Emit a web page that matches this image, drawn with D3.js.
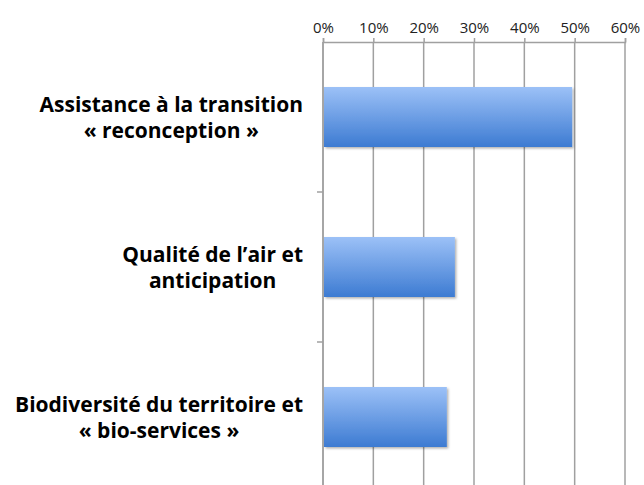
<!DOCTYPE html>
<html>
<head>
<meta charset="utf-8">
<script src="https://cdn.jsdelivr.net/npm/d3@7"></script>
<style>
  body { margin: 0; background: #fff; }
  text { font-family: "Open Sans", Lato, sans-serif; }
</style>
</head>
<body>
<div id="chart"></div>
<script>
// categories (two lines each, as wrapped in the original)
const categories = [
  ["Assistance à la transition", "« reconception »"],
  ["Qualité de l’air et", "anticipation"],
  ["Biodiversité du territoire et", "« bio-services »"]
]
const values = [0.495, 0.262, 0.246]
const tickValues = [0, 0.1, 0.2, 0.3, 0.4, 0.5, 0.6]

let width = 644
let height = 485
let margin = {top: 42, left: 323, right: 19}
let plotBottom = 492

let svg = d3.select("#chart").append("svg")
  .attr("width", width).attr("height", height)

// gradient for bars
let defs = svg.append("defs")
let grad = defs.append("linearGradient").attr("id", "barGrad")
  .attr("x1", 0).attr("y1", 0).attr("x2", 0).attr("y2", 1)
grad.append("stop").attr("offset", "0%").attr("stop-color", "#9cc1f7")
grad.append("stop").attr("offset", "100%").attr("stop-color", "#3d7bd2")
let shadow = defs.append("filter").attr("id", "shadow")
  .attr("x", "-5%").attr("y", "-10%").attr("width", "115%").attr("height", "130%")
shadow.append("feDropShadow").attr("dx", 1.5).attr("dy", 1.5).attr("stdDeviation", 1.2)
  .attr("flood-color", "#000").attr("flood-opacity", 0.3)

let x = d3.scaleLinear().domain([0, 0.6]).range([margin.left, width - margin.right])
let y = d3.scaleBand().domain(d3.range(categories.length))
  .range([margin.top, plotBottom]).paddingInner(0.6).paddingOuter(0.3)

// vertical gridlines
svg.append("g").selectAll("line").data(tickValues).enter().append("line")
  .attr("x1", d => x(d)).attr("x2", d => x(d))
  .attr("y1", margin.top).attr("y2", height)
  .attr("stroke", "#a0a0a0").attr("stroke-width", 1.5)

// top axis
let xAxis = svg.append("g").attr("transform", "translate(0," + margin.top + ")")
  .call(d3.axisTop(x).tickValues(tickValues).tickFormat(d3.format(".0%")).tickSize(4).tickPadding(5))
xAxis.select(".domain").attr("stroke", "#a0a0a0").attr("stroke-width", 1.5)
xAxis.selectAll(".tick line").attr("stroke", "#a0a0a0").attr("stroke-width", 1.5)
xAxis.selectAll(".tick text").attr("font-size", 15).attr("fill", "#222")
  .style("font-family", "'Open Sans', sans-serif")

// left axis: line and separators between categories
let yBoundaries = d3.range(1, categories.length).map(i => y(i) - y.step() * y.paddingInner() / 2)
svg.append("line").attr("x1", x(0)).attr("x2", x(0))
  .attr("y1", margin.top).attr("y2", height)
  .attr("stroke", "#a0a0a0").attr("stroke-width", 1.5)
svg.append("g").selectAll("line").data(yBoundaries).enter().append("line")
  .attr("x1", x(0) - 6).attr("x2", x(0)).attr("y1", d => d).attr("y2", d => d)
  .attr("stroke", "#a0a0a0").attr("stroke-width", 1.5)

// bars
svg.append("g").selectAll("rect").data(values).enter().append("rect")
  .attr("x", x(0) + 1).attr("y", (d, i) => y(i))
  .attr("width", d => x(d) - x(0) - 1).attr("height", y.bandwidth())
  .attr("fill", "url(#barGrad)").attr("filter", "url(#shadow)")

// category labels: lines centered on each other, block right-aligned
let labels = svg.append("g").selectAll("text").data(categories).enter().append("text")
  .attr("font-weight", "bold").attr("font-size", 21)
  .attr("fill", "#000").attr("text-anchor", "middle")
labels.each(function(d, i) {
  let t = d3.select(this)
  let cy = y(i) + y.bandwidth() / 2
  t.append("tspan").attr("x", 0).attr("y", cy - 5).text(d[0])
  t.append("tspan").attr("x", 0).attr("y", cy + 21).text(d[1])
  let w = t.node().getBBox().width
  t.attr("transform", "translate(" + (303 - w / 2) + ",0)")
})
</script>
</body>
</html>
